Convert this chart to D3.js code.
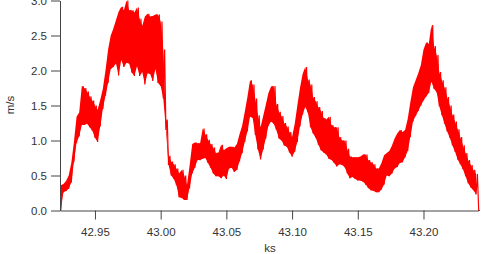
<!DOCTYPE html>
<html>
<head>
<meta charset="utf-8">
<style>
  body { margin: 0; background: #fff; }
  svg { display: block; }
  .axis text { font-family: "Liberation Sans", Arial, sans-serif; font-size: 11.5px; fill: #333; }
  .axis path, .axis line { stroke: #444; stroke-width: 1; }
  .title { font-family: "Liberation Sans", Arial, sans-serif; font-size: 11.5px; fill: #333; }
</style>
</head>
<body>
<div id="viz"></div>
<script src="https://d3js.org/d3.v7.min.js"></script>
<script>
// sampling of the trace (ks)
var t0 = 42.924;
var dt = 0.002;

// upper and lower swing of the noisy trace at each sample (m/s)
var hi = [0.36,0.38,0.42,0.50,0.68,0.98,1.34,1.40,1.78,1.75,
  1.70,1.63,1.57,1.50,1.44,1.58,1.74,2.00,2.30,2.50,
  2.60,2.72,2.84,2.91,2.86,3.00,2.86,2.86,2.83,2.90,
  2.74,2.64,2.77,2.81,2.77,2.78,2.80,2.80,2.70,2.30,
  1.30,0.78,0.70,0.66,0.60,0.53,0.58,0.50,0.36,0.64,
  0.95,0.97,0.96,0.96,1.17,1.09,1.01,0.95,0.90,0.82,
  0.83,0.94,0.86,0.89,0.91,0.91,0.90,0.95,1.09,1.21,
  1.41,1.62,1.86,1.80,1.60,1.36,1.19,1.35,1.51,1.68,
  1.77,1.78,1.52,1.41,1.35,1.25,1.20,1.12,1.05,1.24,
  1.50,1.75,1.95,2.05,1.87,1.80,1.62,1.56,1.48,1.42,
  1.32,1.30,1.34,1.22,1.19,1.19,1.05,1.00,1.00,0.88,
  0.77,0.76,0.76,0.76,0.77,0.80,0.80,0.72,0.69,0.66,
  0.60,0.60,0.68,0.79,0.82,0.85,0.93,1.03,1.10,1.15,
  1.12,1.15,1.31,1.55,1.76,1.86,1.96,2.08,2.30,2.40,
  2.38,2.65,2.35,2.22,1.98,1.86,1.76,1.62,1.50,1.37,
  1.27,1.16,1.05,0.93,0.82,0.72,0.65,0.58,0.52,0.00];

var lo = [0.00,0.26,0.28,0.31,0.40,0.70,0.97,1.06,1.22,1.22,
  1.24,1.19,1.14,1.04,0.98,1.20,1.45,1.64,1.82,2.02,
  2.05,2.10,1.93,2.15,2.05,2.11,2.10,1.97,1.92,2.06,
  1.92,1.98,1.80,1.96,1.95,1.85,2.02,1.82,1.78,1.60,
  1.15,0.65,0.50,0.45,0.36,0.19,0.18,0.15,0.15,0.33,
  0.53,0.61,0.72,0.72,0.74,0.75,0.68,0.61,0.53,0.49,
  0.49,0.46,0.50,0.45,0.60,0.61,0.55,0.58,0.70,0.82,
  0.98,1.13,1.34,1.32,1.08,0.87,0.73,0.87,1.03,1.21,
  1.27,1.24,1.15,1.03,1.00,0.93,0.91,0.83,0.77,0.84,
  0.98,1.20,1.37,1.48,1.40,1.19,1.10,1.04,0.94,0.86,
  0.83,0.80,0.74,0.72,0.68,0.63,0.66,0.65,0.62,0.53,
  0.46,0.48,0.45,0.43,0.43,0.41,0.37,0.32,0.29,0.28,
  0.26,0.26,0.30,0.37,0.50,0.49,0.53,0.60,0.62,0.68,
  0.69,0.76,0.85,1.05,1.27,1.35,1.42,1.50,1.57,1.63,
  1.68,1.84,1.74,1.69,1.49,1.36,1.24,1.13,1.04,0.93,
  0.84,0.73,0.66,0.59,0.49,0.39,0.33,0.29,0.23,0.00];

var xTicks = [42.95, 43.00, 43.05, 43.10, 43.15, 43.20];
var yTicks = [0, 0.5, 1.0, 1.5, 2.0, 2.5, 3.0];
var xLabel = "ks";
var yLabel = "m/s";

var width = 486, height = 254;
var margin = {top: 0.5, right: 7.7, bottom: 43.5, left: 60};

var svg = d3.select("#viz").append("svg")
    .attr("width", width)
    .attr("height", height);

var x = d3.scaleLinear()
    .domain([42.9234, 43.2417])
    .range([margin.left, width - margin.right]);

var y = d3.scaleLinear()
    .domain([0, 3])
    .range([height - margin.bottom, margin.top]);

// band between the swings, so the dense part of the signal reads solid
var band = hi.map(function(h, i) { return {t: t0 + i * dt, lo: lo[i], hi: h}; });

var area = d3.area()
    .x(function(d) { return x(d.t); })
    .y0(function(d) { return y(d.lo); })
    .y1(function(d) { return y(d.hi); });

svg.append("path")
    .datum(band.slice(0, band.length - 1))
    .attr("fill", "#ff0000")
    .attr("d", area);

// interleave low and high swings so the line zigzags like the raw signal
var trace = [];
for (var i = 0; i < hi.length; i++) {
  trace.push([t0 + i * dt, lo[i]]);
  trace.push([t0 + i * dt + dt / 2, hi[i]]);
}

var line = d3.line()
    .x(function(d) { return x(d[0]); })
    .y(function(d) { return y(d[1]); });

svg.append("path")
    .datum(trace)
    .attr("fill", "none")
    .attr("stroke", "#ff0000")
    .attr("stroke-width", 1.2)
    .attr("d", line);

// axes
svg.append("g")
    .attr("class", "axis")
    .attr("transform", "translate(0," + y(0) + ")")
    .call(d3.axisBottom(x).tickValues(xTicks).tickSize(9).tickSizeOuter(0).tickPadding(8)
      .tickFormat(d3.format(".2f")));

svg.append("g")
    .attr("class", "axis")
    .attr("transform", "translate(" + x.range()[0] + ",0)")
    .call(d3.axisLeft(y).tickValues(yTicks).tickSize(9).tickSizeOuter(0).tickPadding(4)
      .tickFormat(d3.format(".1f")));

svg.append("text")
    .attr("class", "title")
    .attr("x", 270)
    .attr("y", 252)
    .attr("text-anchor", "middle")
    .text(xLabel);

svg.append("text")
    .attr("class", "title")
    .attr("transform", "translate(14,105) rotate(-90)")
    .attr("text-anchor", "middle")
    .text(yLabel);
</script>
</body>
</html>
